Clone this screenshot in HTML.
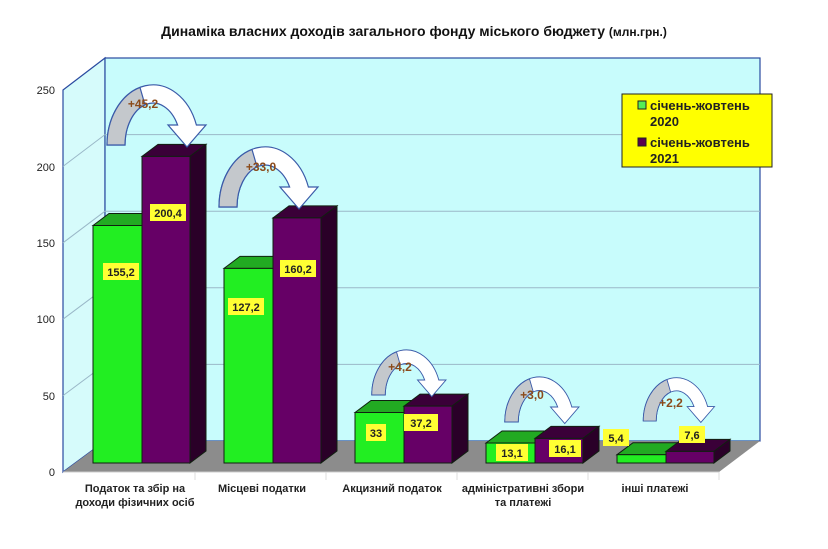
<!DOCTYPE html>
<html><head><meta charset="utf-8"><style>
html,body{margin:0;padding:0;background:#fff;}
svg{display:block;font-family:"Liberation Sans",Arial,sans-serif;}
</style></head><body>
<svg width="828" height="549" viewBox="0 0 828 549" xmlns="http://www.w3.org/2000/svg">
<defs>
<g id="arr">
<path d="M -83 0 A 46 60 0 0 1 6.4 -20 L 16 -20 L -3 2 L -22 -20 L -12.4 -20 A 28 42 0 0 0 -65 0 Z" fill="#fff" stroke="#3a5aa8" stroke-width="1.2"/>
<path d="M -83 0 A 46 60 0 0 1 -50 -57.5 L -45 -40.2 A 28 42 0 0 0 -65 0 Z" fill="#c4c8cc" stroke="#3a5aa8" stroke-width="1.2"/>
</g>
</defs>
<rect width="828" height="549" fill="#fff"/>
<text x="414" y="36" text-anchor="middle" font-size="14" font-weight="bold" fill="#111">Динаміка  власних доходів загального фонду міського бюджету <tspan font-size="12">(млн.грн.)</tspan></text>

<!-- walls -->
<polygon points="63,90 105,58 105,441 63,472" fill="#d6fbfb" stroke="#2a4aa0" stroke-width="1.2"/>
<rect x="105" y="58" width="655" height="383" fill="#c8fcfc" stroke="#2a4aa0" stroke-width="1.2"/>
<g stroke="#9ab8c8" stroke-width="1">
<line x1="105" y1="364.4" x2="760" y2="364.4"/><line x1="105" y1="287.8" x2="760" y2="287.8"/>
<line x1="105" y1="211.2" x2="760" y2="211.2"/><line x1="105" y1="134.6" x2="760" y2="134.6"/>
<line x1="63" y1="395.6" x2="105" y2="364.4"/><line x1="63" y1="319.2" x2="105" y2="287.8"/>
<line x1="63" y1="242.8" x2="105" y2="211.2"/><line x1="63" y1="166.4" x2="105" y2="134.6"/>
</g>
<polygon points="63,472 105,441 760,441 719,472" fill="#8c8c8c"/>
<line x1="63" y1="472" x2="719" y2="472" stroke="#ccc"/>
<g stroke="#ddd"><line x1="195" y1="472" x2="195" y2="480"/><line x1="326" y1="472" x2="326" y2="480"/><line x1="457" y1="472" x2="457" y2="480"/><line x1="588" y1="472" x2="588" y2="480"/><line x1="719" y1="472" x2="719" y2="480"/></g>

<g font-size="11" fill="#222" text-anchor="end">
<text x="55" y="476">0</text><text x="55" y="400">50</text><text x="55" y="323">100</text>
<text x="55" y="247">150</text><text x="55" y="171">200</text><text x="55" y="94">250</text>
</g>

<!-- bars -->
<g stroke="#102010" stroke-width="1">
<!-- G1 -->
<polygon points="93,225.5 109,213.5 158,213.5 142,225.5" fill="#22aa22"/>
<rect x="93" y="225.5" width="49" height="237.5" fill="#22ee22"/>
<polygon points="142,156.4 158,144.4 206,144.4 190,156.4" fill="#3a0038"/>
<rect x="142" y="156.4" width="48" height="306.6" fill="#660066"/>
<polygon points="190,156.4 206,144.4 206,451 190,463" fill="#2a0028"/>
<!-- G2 -->
<polygon points="224,268.4 240,256.4 289,256.4 273,268.4" fill="#22aa22"/>
<rect x="224" y="268.4" width="49" height="194.6" fill="#22ee22"/>
<polygon points="273,217.9 289,205.9 337,205.9 321,217.9" fill="#3a0038"/>
<rect x="273" y="217.9" width="48" height="245.1" fill="#660066"/>
<polygon points="321,217.9 337,205.9 337,451 321,463" fill="#2a0028"/>
<!-- G3 -->
<polygon points="355,412.5 371,400.5 420,400.5 404,412.5" fill="#22aa22"/>
<rect x="355" y="412.5" width="49" height="50.5" fill="#22ee22"/>
<polygon points="404,406.1 420,394.1 468,394.1 452,406.1" fill="#3a0038"/>
<rect x="404" y="406.1" width="48" height="56.9" fill="#660066"/>
<polygon points="452,406.1 468,394.1 468,451 452,463" fill="#2a0028"/>
<!-- G4 -->
<polygon points="486,443 502,431 551,431 535,443" fill="#22aa22"/>
<rect x="486" y="443" width="49" height="20" fill="#22ee22"/>
<polygon points="535,438.4 551,426.4 599,426.4 583,438.4" fill="#3a0038"/>
<rect x="535" y="438.4" width="48" height="24.6" fill="#660066"/>
<polygon points="583,438.4 599,426.4 599,451 583,463" fill="#2a0028"/>
<!-- G5 -->
<polygon points="617,454.7 633,442.7 682,442.7 666,454.7" fill="#22aa22"/>
<rect x="617" y="454.7" width="49" height="8.3" fill="#22ee22"/>
<polygon points="666,451.4 682,439.4 730,439.4 714,451.4" fill="#3a0038"/>
<rect x="666" y="451.4" width="48" height="11.6" fill="#660066"/>
<polygon points="714,451.4 730,439.4 730,451 714,463" fill="#2a0028"/>
</g>

<!-- arrows -->
<use href="#arr" transform="translate(190,145)"/>
<use href="#arr" transform="translate(302,207)"/>
<use href="#arr" transform="translate(434,395) scale(0.75)"/>
<use href="#arr" transform="translate(567,422) scale(0.75)"/>
<use href="#arr" transform="translate(703,421) scale(0.72)"/>
<g font-size="12" font-weight="bold" fill="#8b4a1a" text-anchor="middle">
<text x="143" y="108">+45,2</text>
<text x="261" y="171">+33,0</text>
<text x="400" y="371">+4,2</text>
<text x="532" y="399">+3,0</text>
<text x="671" y="407">+2,2</text>
</g>

<!-- value labels -->
<g font-size="11" font-weight="bold" fill="#222" text-anchor="middle">
<rect x="103" y="263" width="36" height="17" fill="#ffff33"/><text x="121" y="276">155,2</text>
<rect x="150" y="204" width="36" height="17" fill="#ffff33"/><text x="168" y="217">200,4</text>
<rect x="228" y="298" width="36" height="17" fill="#ffff33"/><text x="246" y="311">127,2</text>
<rect x="280" y="260" width="36" height="17" fill="#ffff33"/><text x="298" y="273">160,2</text>
<rect x="366" y="424" width="20" height="17" fill="#ffff33"/><text x="376" y="437">33</text>
<rect x="404" y="414" width="34" height="17" fill="#ffff33"/><text x="421" y="427">37,2</text>
<rect x="496" y="444" width="32" height="17" fill="#ffff33"/><text x="512" y="457">13,1</text>
<rect x="549" y="440" width="32" height="17" fill="#ffff33"/><text x="565" y="453">16,1</text>
<rect x="603" y="429" width="26" height="17" fill="#ffff33"/><text x="616" y="442">5,4</text>
<rect x="679" y="426" width="26" height="17" fill="#ffff33"/><text x="692" y="439">7,6</text>
</g>

<!-- legend -->
<rect x="622" y="94" width="150" height="73" fill="#ffff00" stroke="#222" stroke-width="1"/>
<rect x="638" y="101" width="8" height="8" fill="#55ee55" stroke="#222"/>
<rect x="638" y="138" width="8" height="8" fill="#5a0050" stroke="#222"/>
<g font-size="13" font-weight="bold" fill="#222">
<text x="650" y="110">січень-жовтень</text><text x="650" y="126">2020</text>
<text x="650" y="147">січень-жовтень</text><text x="650" y="163">2021</text>
</g>

<!-- categories -->
<g font-size="11" font-weight="bold" fill="#222" text-anchor="middle">
<text x="135" y="492">Податок та збір на</text><text x="135" y="506">доходи фізичних осіб</text>
<text x="262" y="492">Місцеві податки</text>
<text x="392" y="492">Акцизний податок</text>
<text x="523" y="492">адміністративні збори</text><text x="523" y="506">та платежі</text>
<text x="655" y="492">інші платежі</text>
</g>
</svg>
</body></html>
